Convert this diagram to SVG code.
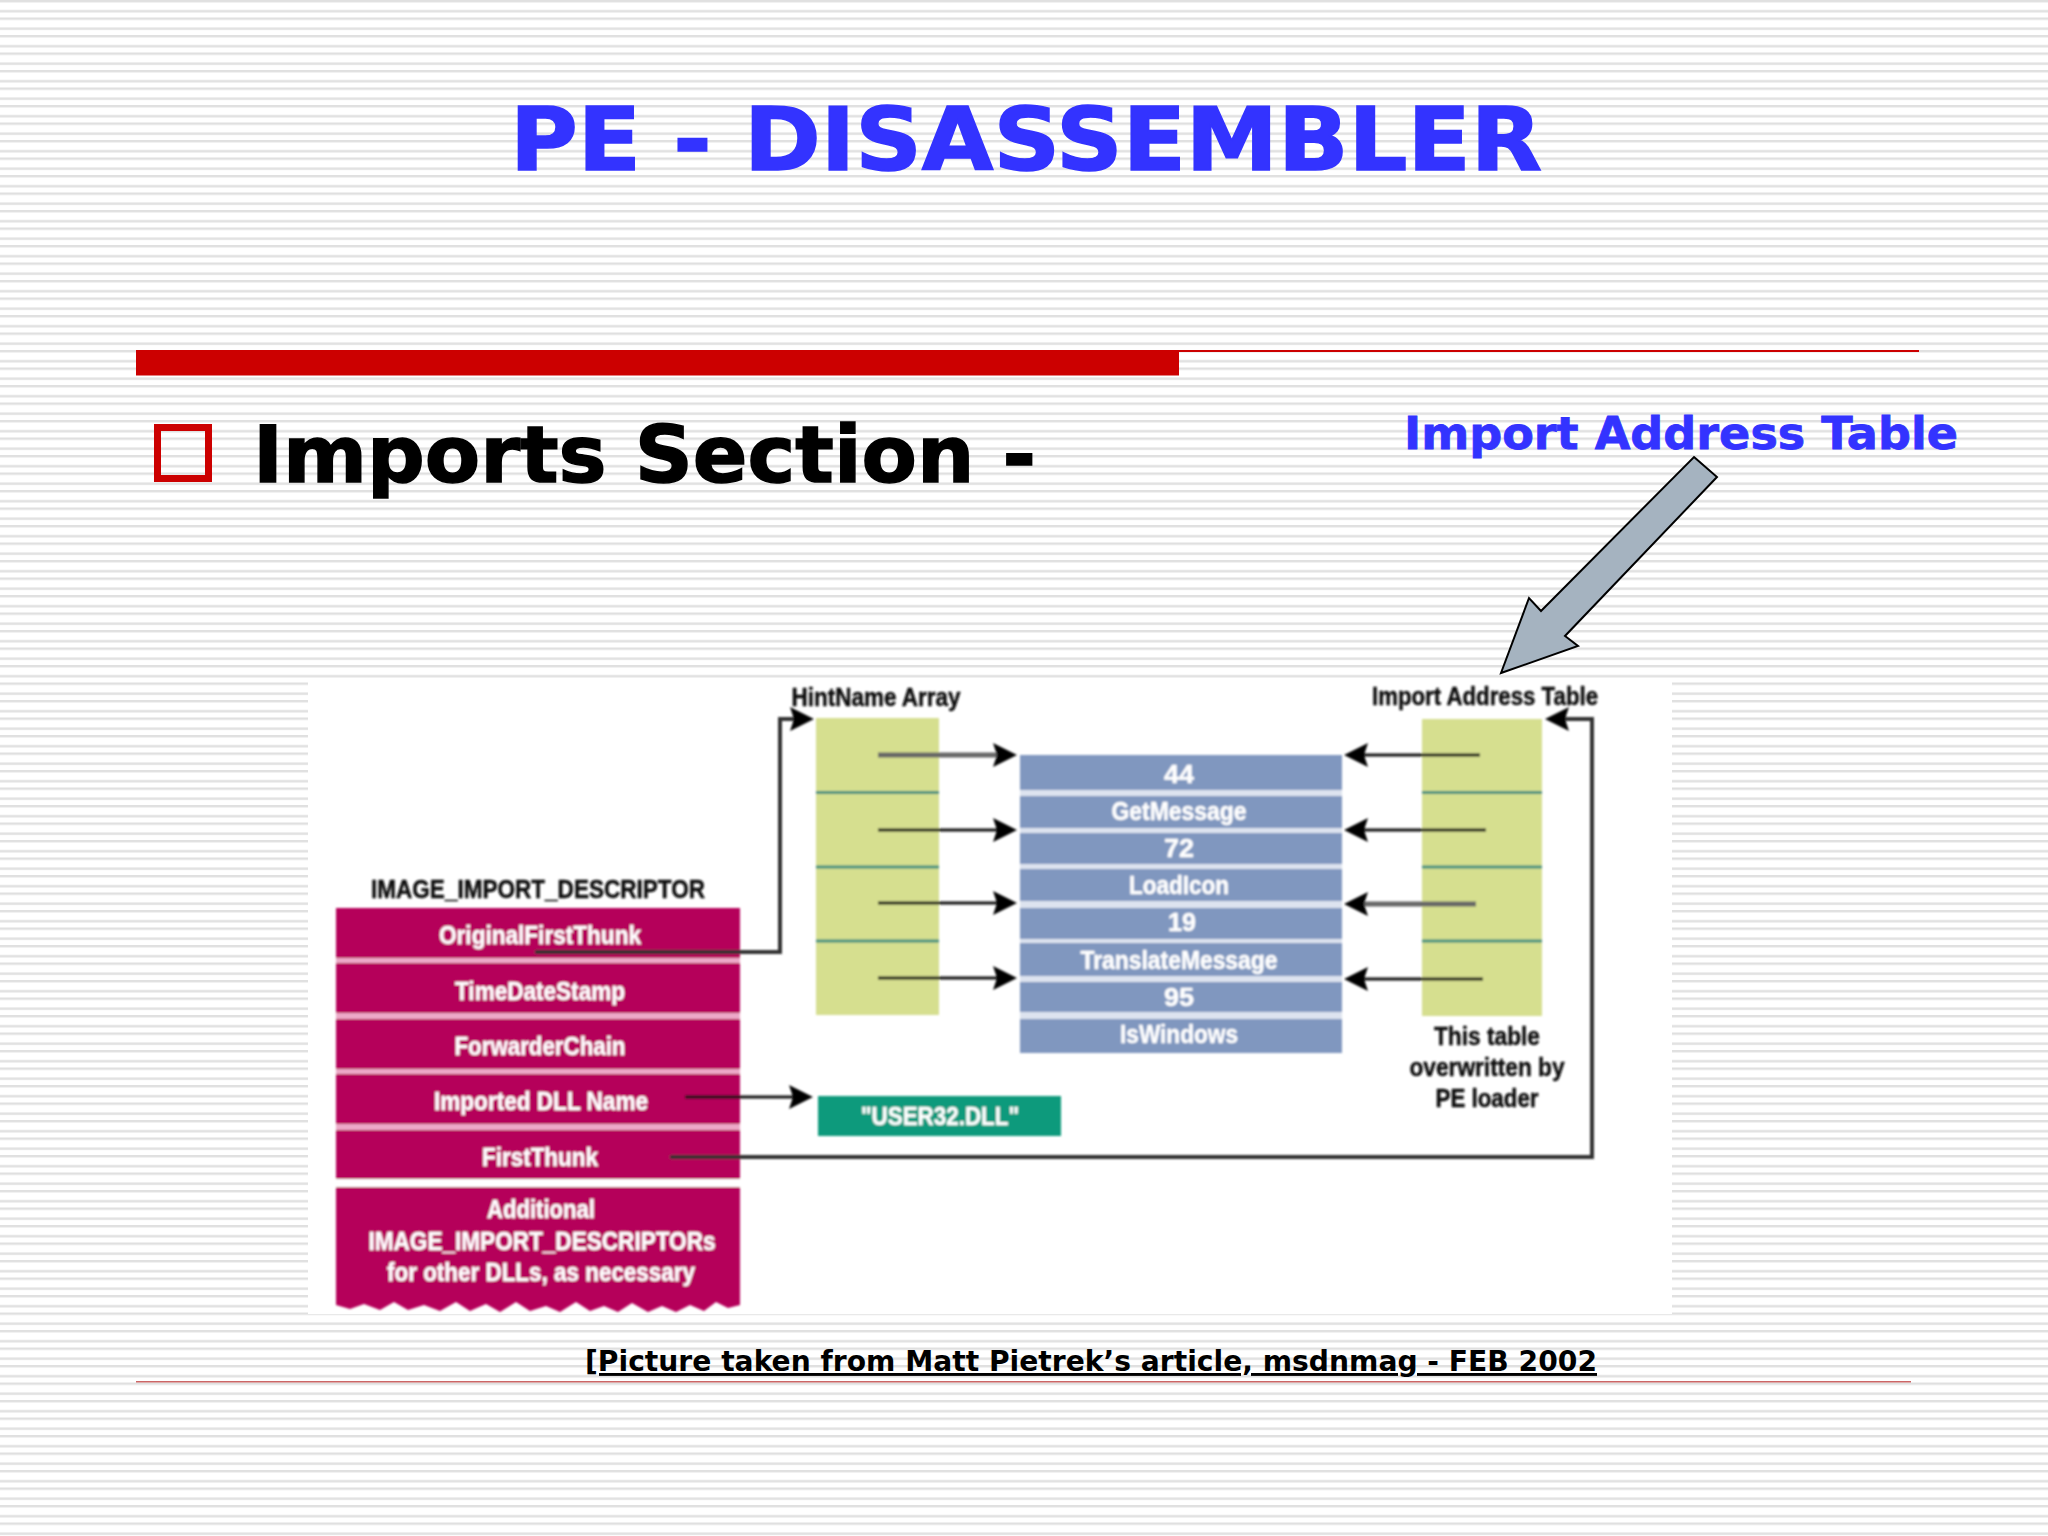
<svg xmlns="http://www.w3.org/2000/svg" width="2048" height="1536" viewBox="0 0 2048 1536">
<style>
text{font-family:"DejaVu Sans",Verdana,sans-serif;font-weight:700}
.t{font-family:"Liberation Sans",Arial,sans-serif;font-size:25px;text-anchor:middle;dominant-baseline:central}
.w{fill:#fff;stroke:#fff;stroke-width:.4}.k{fill:#111;stroke:#111;stroke-width:.5}
.crim{fill:#b5005a;stroke:none}.blue{fill:#8097bf}.green{fill:#d6df8f}.teal{fill:#3f8f80}
.c{fill:none;stroke:#111;stroke-width:3;marker-end:url(#head)}
.g{fill:none;stroke:#666;stroke-width:5;marker-end:url(#head)}
.m{fill:none;stroke:#333;stroke-width:4;marker-end:url(#head)}
</style>
<defs>
<pattern id="stripes" width="2048" height="17.5" patternUnits="userSpaceOnUse">
<rect y="0" width="2048" height="2.4" fill="#e0e0e0"/>
<rect y="10" width="2048" height="2.4" fill="#e0e0e0"/>
</pattern>
<marker id="head" markerUnits="userSpaceOnUse" markerWidth="26" markerHeight="26" viewBox="0 0 26 26" refX="6" refY="13" orient="auto">
<path d="M0 1 L24 13 L0 25 L4 13 Z" fill="#000"/>
</marker>
<filter id="soft" x="-5%" y="-5%" width="110%" height="110%"><feGaussianBlur stdDeviation="0.9"/></filter>
</defs>
<rect width="2048" height="1536" fill="#fff"/>
<rect width="2048" height="1536" fill="url(#stripes)"/>
<g id="title"><text x="1026" y="170" font-size="88" fill="#3333ff" stroke="#3333ff" stroke-width="1.5" text-anchor="middle" textLength="1032" lengthAdjust="spacingAndGlyphs">PE - DISASSEMBLER</text></g>
<g id="rule"><rect x="136" y="350" width="1043" height="25.500" fill="#cc0000"/><rect x="1179" y="350" width="740" height="2" fill="#cc0000"/></g>
<g id="heading">
<rect x="157.500" y="427.500" width="51" height="51" fill="none" stroke="#cc0000" stroke-width="7"/>
<text x="253" y="482" font-size="79" fill="#000" stroke="#000" stroke-width="1.5" textLength="783" lengthAdjust="spacingAndGlyphs">Imports Section -</text>
</g>
<g id="callout-label"><text x="1404" y="449" font-size="45" fill="#3333ff" stroke="#3333ff" stroke-width=".8" textLength="554" lengthAdjust="spacingAndGlyphs">Import Address Table</text></g>
<g id="picture-bg"><rect x="308" y="680" width="1364" height="634" fill="#fff"/></g>
<g filter="url(#soft)">
<g id="descriptor">
<text class="t k" x="538" y="889" textLength="334" lengthAdjust="spacingAndGlyphs">IMAGE_IMPORT_DESCRIPTOR</text>
<rect x="336" y="908" width="404" height="280" fill="#eda9c8"/>
<rect class="crim" x="336" y="908" width="404" height="50"/>
<rect class="crim" x="336" y="963" width="404" height="50"/>
<rect class="crim" x="336" y="1019" width="404" height="50"/>
<rect class="crim" x="336" y="1074" width="404" height="50"/>
<rect class="crim" x="336" y="1130" width="404" height="49"/>
<rect x="336" y="1179" width="404" height="8" fill="#fff"/>
<path class="crim" d="M336 1187H740V1305L728 1308 716 1302 704 1311 690 1305 676 1312 662 1306 648 1312 632 1303 618 1312 604 1306 590 1311 576 1302 560 1312 546 1306 530 1311 516 1302 500 1312 486 1304 470 1311 456 1302 440 1311 424 1305 408 1310 394 1302 380 1310 364 1304 350 1309 336 1305Z"/>
<text class="t w" x="540" y="935" textLength="202" lengthAdjust="spacingAndGlyphs">OriginalFirstThunk</text>
<text class="t w" x="540" y="991" textLength="170" lengthAdjust="spacingAndGlyphs">TimeDateStamp</text>
<text class="t w" x="540" y="1046" textLength="171" lengthAdjust="spacingAndGlyphs">ForwarderChain</text>
<text class="t w" x="541" y="1101" textLength="214" lengthAdjust="spacingAndGlyphs">Imported DLL Name</text>
<text class="t w" x="540" y="1157" textLength="116" lengthAdjust="spacingAndGlyphs">FirstThunk</text>
<text class="t w" x="541" y="1209" textLength="108" lengthAdjust="spacingAndGlyphs">Additional</text>
<text class="t w" x="542" y="1241" textLength="347" lengthAdjust="spacingAndGlyphs">IMAGE_IMPORT_DESCRIPTORs</text>
<text class="t w" x="541" y="1272" textLength="308" lengthAdjust="spacingAndGlyphs">for other DLLs, as necessary</text>
</g>
<g id="hint-name-array">
<text class="t k" x="876" y="697" textLength="169" lengthAdjust="spacingAndGlyphs">HintName Array</text>
<rect class="green" x="816" y="718" width="123" height="297"/>
<rect class="teal" x="816" y="791" width="123" height="3"/>
<rect class="teal" x="816" y="865.500" width="123" height="3"/>
<rect class="teal" x="816" y="939.500" width="123" height="3"/>
</g>
<g id="name-table">
<rect x="1020" y="755" width="322" height="298" fill="#dde3ef"/>
<rect class="blue" x="1020" y="755" width="322" height="35"/>
<rect class="blue" x="1020" y="796" width="322" height="32"/>
<rect class="blue" x="1020" y="833" width="322" height="31"/>
<rect class="blue" x="1020" y="869" width="322" height="32"/>
<rect class="blue" x="1020" y="908" width="322" height="31"/>
<rect class="blue" x="1020" y="943" width="322" height="33"/>
<rect class="blue" x="1020" y="982" width="322" height="30"/>
<rect class="blue" x="1020" y="1019" width="322" height="34"/>
<text class="t w" x="1179" y="774" textLength="30" lengthAdjust="spacingAndGlyphs">44</text>
<text class="t w" x="1179" y="811" textLength="135" lengthAdjust="spacingAndGlyphs">GetMessage</text>
<text class="t w" x="1179" y="848" textLength="30" lengthAdjust="spacingAndGlyphs">72</text>
<text class="t w" x="1179" y="885" textLength="100" lengthAdjust="spacingAndGlyphs">LoadIcon</text>
<text class="t w" x="1182" y="922" textLength="28" lengthAdjust="spacingAndGlyphs">19</text>
<text class="t w" x="1179" y="960" textLength="197" lengthAdjust="spacingAndGlyphs">TranslateMessage</text>
<text class="t w" x="1179" y="997" textLength="30" lengthAdjust="spacingAndGlyphs">95</text>
<text class="t w" x="1179" y="1034" textLength="118" lengthAdjust="spacingAndGlyphs">IsWindows</text>
</g>
<g id="import-address-table">
<text class="t k" x="1485" y="696" textLength="226" lengthAdjust="spacingAndGlyphs">Import Address Table</text>
<rect class="green" x="1422" y="719" width="120" height="297"/>
<rect class="teal" x="1422" y="791" width="120" height="3"/>
<rect class="teal" x="1422" y="865.500" width="120" height="3"/>
<rect class="teal" x="1422" y="939.500" width="120" height="3"/>
<text class="t k" x="1487" y="1036" textLength="106" lengthAdjust="spacingAndGlyphs">This table</text>
<text class="t k" x="1487" y="1067" textLength="155" lengthAdjust="spacingAndGlyphs">overwritten by</text>
<text class="t k" x="1487" y="1098" textLength="103" lengthAdjust="spacingAndGlyphs">PE loader</text>
</g>
<g id="dll-name">
<rect x="818" y="1096" width="243" height="40" fill="#0a9a7c"/>
<text class="t w" x="940" y="1116" textLength="158" lengthAdjust="spacingAndGlyphs">"USER32.DLL"</text>
</g>
<g id="connectors">
<path class="m" d="M535 952H780V719H796"/>
<path class="g" d="M878 755H999"/>
<path class="c" d="M878 830H999"/>
<path class="c" d="M878 903H999"/>
<path class="c" d="M878 978H999"/>
<path class="c" d="M1480 755H1362"/>
<path class="c" d="M1486 830H1362"/>
<path class="g" d="M1476 904H1362"/>
<path class="c" d="M1483 979H1362"/>
<path class="c" d="M685 1097H795"/>
<path class="m" d="M670 1157H1592V719H1563"/>
</g>
</g>
<g id="callout-arrow"><path d="M1694 457L1717 477 1565 636 1578 646 1501 673 1529 598 1541 611Z" fill="#a5b3c0" stroke="#000" stroke-width="2"/></g>
<g id="source"><text x="585" y="1371" font-size="29" fill="#000" text-decoration="underline" textLength="1012" lengthAdjust="spacingAndGlyphs">[Picture taken from Matt Pietrek’s article, msdnmag - FEB 2002</text>
<rect x="136" y="1381" width="1775" height="1.500" fill="#cc6666"/></g>
</svg>
